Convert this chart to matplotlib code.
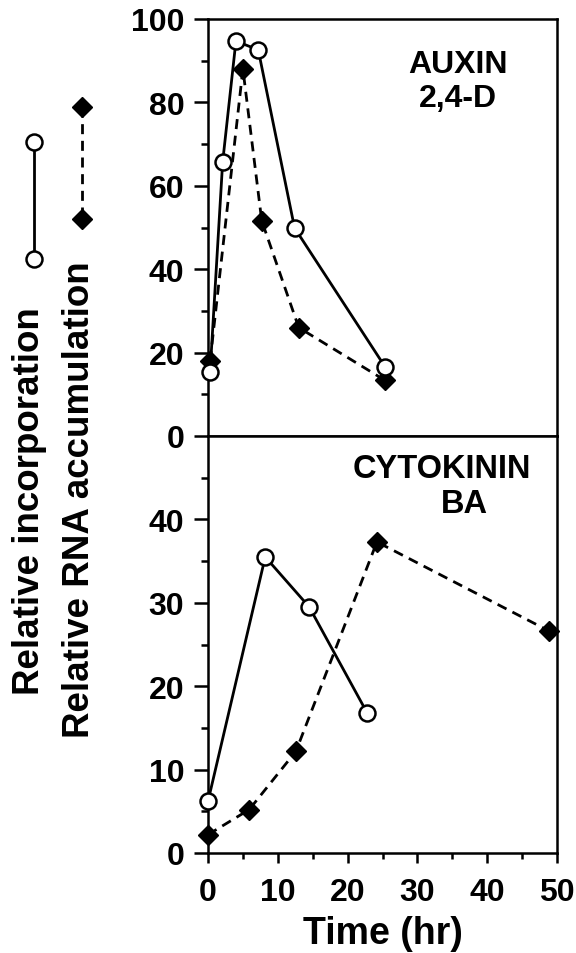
import matplotlib.pyplot as plt
from matplotlib.lines import Line2D
from matplotlib.ticker import MultipleLocator

# Auxin (2,4-D) panel
auxin_inc_time = [0.3, 2.1, 4.0, 7.2, 12.4, 25.4]
auxin_inc = [15.3, 65.7, 94.7, 92.6, 49.9, 16.5]
auxin_rna_time = [0.3, 5.0, 7.7, 13.0, 25.3]
auxin_rna = [18.0, 88.0, 51.6, 26.0, 13.4]

# Cytokinin (BA) panel
cyto_inc_time = [0.0, 8.2, 14.5, 22.8]
cyto_inc = [6.2, 35.5, 29.5, 16.8]
cyto_rna_time = [0.0, 5.9, 12.6, 24.2, 48.9]
cyto_rna = [2.2, 5.2, 12.2, 37.3, 26.6]

plt.rcParams["font.family"] = ["Liberation Sans", "DejaVu Sans"]
plt.rcParams["font.weight"] = "bold"

W, H = 576, 954
lw = 2
dash = (0, (3.6, 2.4))
circ = dict(marker="o", markersize=11.5, markerfacecolor="white",
            markeredgecolor="black", markeredgewidth=1.8)
diam = dict(marker="D", markersize=10.5, markerfacecolor="black",
            markeredgecolor="black", markeredgewidth=1)

fig = plt.figure(figsize=(W / 100, H / 100), dpi=100)
ax_top = fig.add_axes([208 / W, 1 - 437 / H, 349 / W, 417 / H])
ax_bot = fig.add_axes([208 / W, 1 - 854 / H, 349 / W, 417 / H], sharex=ax_top)

ax_top.plot(auxin_rna_time, auxin_rna, color="black", lw=lw, ls=dash,
            clip_on=False, zorder=3, **diam)
ax_top.plot(auxin_inc_time, auxin_inc, color="black", lw=lw,
            clip_on=False, zorder=4, **circ)
ax_bot.plot(cyto_rna_time, cyto_rna, color="black", lw=lw, ls=dash,
            clip_on=False, zorder=3, **diam)
ax_bot.plot(cyto_inc_time, cyto_inc, color="black", lw=lw,
            clip_on=False, zorder=4, **circ)

ax_top.set_ylim(0, 100)
ax_bot.set_ylim(0, 50)
ax_bot.set_xlim(0, 50)

ax_top.yaxis.set_major_locator(MultipleLocator(20))
ax_top.yaxis.set_minor_locator(MultipleLocator(10))
ax_bot.set_yticks([0, 10, 20, 30, 40])
ax_bot.set_yticks([5, 15, 25, 35, 45], minor=True)
ax_bot.xaxis.set_major_locator(MultipleLocator(10))
ax_bot.xaxis.set_minor_locator(MultipleLocator(5))

for ax in (ax_top, ax_bot):
    for spine in ax.spines.values():
        spine.set_linewidth(1.8)
    ax.tick_params(axis="y", which="major", direction="out", length=10,
                   width=1.8, pad=7, labelsize=23)
    ax.tick_params(axis="y", which="minor", direction="out", length=5,
                   width=1.8)
    ax.tick_params(axis="x", which="major", direction="out", length=7,
                   width=1.8, pad=10, labelsize=23)
    ax.tick_params(axis="x", which="minor", direction="out", length=4,
                   width=1.8)

ax_top.tick_params(axis="x", which="both", bottom=False, labelbottom=False)
ax_bot.set_xlabel("Time (hr)", fontsize=27, fontweight="bold", labelpad=6)

ax_top.text(0.716, 0.851, "AUXIN\n2,4-D", transform=ax_top.transAxes,
            ha="center", va="center", multialignment="center",
            fontsize=23, fontweight="bold")
ax_bot.text(0.670, 0.921, "CYTOKININ", transform=ax_bot.transAxes,
            ha="center", va="center", fontsize=23.5, fontweight="bold")
ax_bot.text(0.736, 0.837, "BA", transform=ax_bot.transAxes,
            ha="center", va="center", fontsize=23.5, fontweight="bold")

# vertical legend on the left
fig.add_artist(Line2D([34 / W, 34 / W], [1 - 143 / H, 1 - 260 / H],
                      color="black", lw=lw, **circ))
fig.add_artist(Line2D([82 / W, 82 / W], [1 - 108 / H, 1 - 220 / H],
                      color="black", lw=lw, ls=dash, **diam))
fig.text(30 / W, 1 - 501 / H, "Relative incorporation", rotation=90,
         ha="center", va="center", fontsize=26.5, fontweight="bold")
fig.text(80 / W, 1 - 500 / H, "Relative RNA accumulation", rotation=90,
         ha="center", va="center", fontsize=26.5, fontweight="bold")

plt.savefig("out.png", dpi=100)
